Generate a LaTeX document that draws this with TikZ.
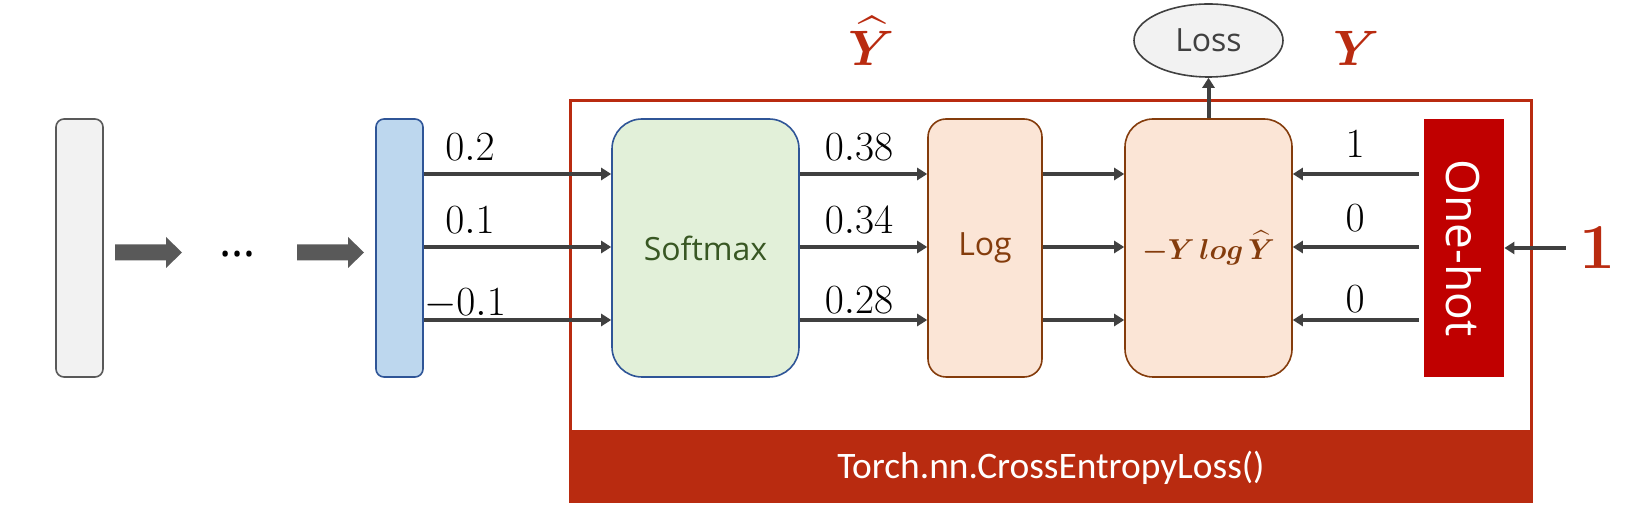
\documentclass[tikz,border=0pt]{standalone}
\usepackage{fontspec}
\usepackage{amsmath,bm}
\usetikzlibrary{shapes.geometric,arrows.meta}
\newfontfamily\uifont{Open Sans}
\newfontfamily\torchfont{Carlito}
\definecolor{arrowgray}{HTML}{404040}
\definecolor{blockgray}{HTML}{595959}
\definecolor{framered}{HTML}{B92B10}
\definecolor{onehotred}{HTML}{C00000}
\definecolor{graybg}{HTML}{F2F2F2}
\definecolor{bluebg}{HTML}{BDD7EE}
\definecolor{blueline}{HTML}{2F5597}
\definecolor{greenbg}{HTML}{E2F0D9}
\definecolor{greentext}{HTML}{385723}
\definecolor{orangebg}{HTML}{FBE5D6}
\definecolor{brown}{HTML}{843C0C}
\begin{document}
\begin{tikzpicture}[x=0.5pt,y=-0.5pt,
  tallbox/.style={draw, line width=0.8pt, inner sep=0pt, minimum height=129pt},
  arr/.style={draw=arrowgray, line width=2pt, -{Triangle[length=5pt,width=6pt]}},
  numlab/.style={anchor=base, inner sep=0pt, font=\fontsize{21}{25}\selectfont},
  redlab/.style={text=framered, inner sep=0pt}]
\useasboundingbox (0,0) rectangle (1633,512);

% frame
\fill[framered] (569,432) rectangle (1533,503);
\draw[framered, line width=1.5pt] (570.5,100.5) rectangle (1531.5,432);
\node[text=white, font=\torchfont\fontsize{18.7}{22}\selectfont] (torch) at (1051,468) {Torch.nn.CrossEntropyLoss()};

% boxes
\node[tallbox, draw=blockgray, fill=graybg, minimum width=23.5pt, rounded corners=4pt] (gray) at (79.5,248) {};
\node[tallbox, draw=blueline, fill=bluebg, minimum width=23.5pt, rounded corners=4pt] (blue) at (399.5,248) {};
\node[tallbox, draw=blueline, fill=greenbg, minimum width=93.5pt, rounded corners=15pt,
      text=greentext, font=\uifont\fontsize{16}{19}\selectfont] (soft) at (705.5,248) {Softmax};
\node[tallbox, draw=brown, fill=orangebg, minimum width=57pt, rounded corners=9pt,
      text=brown, font=\uifont\fontsize{16}{19}\selectfont] (log) at (985,248) {Log};
\node[tallbox, draw=brown, fill=orangebg, minimum width=83.5pt, rounded corners=14pt,
      text=brown, font=\fontsize{14.5}{17}\selectfont] (fx) at (1208.5,248) {$\bm{-Y\,log\,\widehat{Y}}$};
% rotated: its south side is the left edge, its north side the right edge
\node[draw=none, inner sep=0pt, fill=onehotred, minimum width=129pt, minimum height=40pt,
      text=white, font=\uifont\fontsize{23}{27}\selectfont, rotate=-90] (oh) at (1464,248) {One-hot};
\node[ellipse, draw=arrowgray, line width=0.8pt, fill=graybg, minimum width=74.5pt, minimum height=36.5pt, inner sep=0pt,
      text=arrowgray, font=\uifont\fontsize{16}{19}\selectfont] (loss) at (1208.5,40.5) {Loss};

% block arrows and dots
\fill[blockgray] (115,244.5) -- (166,244.5) -- (166,237) -- (182,252.5) -- (166,268) -- (166,260.5) -- (115,260.5) -- cycle;
\fill[blockgray] (297,244.5) -- (348,244.5) -- (348,237) -- (364,252.5) -- (348,268) -- (348,260.5) -- (297,260.5) -- cycle;
\node[inner sep=0pt, font=\uifont\fontsize{23}{27}\selectfont] (dots) at (238,254) {…};

% rows
\coordinate (r1) at (0,174);
\coordinate (r2) at (0,247);
\coordinate (r3) at (0,320);

\draw[arr] (blue.east |- r1) -- (soft.west |- r1);
\draw[arr] (blue.east |- r2) -- (soft.west |- r2);
\draw[arr] (blue.east |- r3) -- (soft.west |- r3);
\draw[arr] (soft.east |- r1) -- (log.west |- r1);
\draw[arr] (soft.east |- r2) -- (log.west |- r2);
\draw[arr] (soft.east |- r3) -- (log.west |- r3);
\draw[arr] (log.east |- r1) -- (fx.west |- r1);
\draw[arr] (log.east |- r2) -- (fx.west |- r2);
\draw[arr] (log.east |- r3) -- (fx.west |- r3);
\draw[arr, shorten <=2.5pt] (oh.south |- r1) -- (fx.east |- r1);
\draw[arr, shorten <=2.5pt] (oh.south |- r2) -- (fx.east |- r2);
\draw[arr, shorten <=2.5pt] (oh.south |- r3) -- (fx.east |- r3);
\draw[arr] (fx.north) -- (loss.south);

% number labels
\node[numlab] (a1) at (470,161) {$0.2$};
\node[numlab] (a2) at (470,234) {$0.1$};
\node[numlab] (a3) at (465,316) {$-0.1$};
\node[numlab] (b1) at (859,161) {$0.38$};
\node[numlab] (b2) at (859,234) {$0.34$};
\node[numlab] (b3) at (859,314) {$0.28$};
\node[numlab] (c1) at (1355,158) {$1$};
\node[numlab] (c2) at (1355,232) {$0$};
\node[numlab] (c3) at (1355,313) {$0$};

% red labels
\node[redlab, font=\fontsize{28}{32}\selectfont] (yhat) at (872,41) {$\bm{\widehat{Y}}$};
\node[redlab, font=\fontsize{28}{32}\selectfont] (ylab) at (1357,48) {$\bm{Y}$};
\node[redlab, font=\bfseries\fontsize{32}{36}\selectfont] (one) at (1597,248) {1};
\draw[arr, shorten <=6.5pt] (one.west) -- (oh.north |- one.west);
\end{tikzpicture}
\end{document}
